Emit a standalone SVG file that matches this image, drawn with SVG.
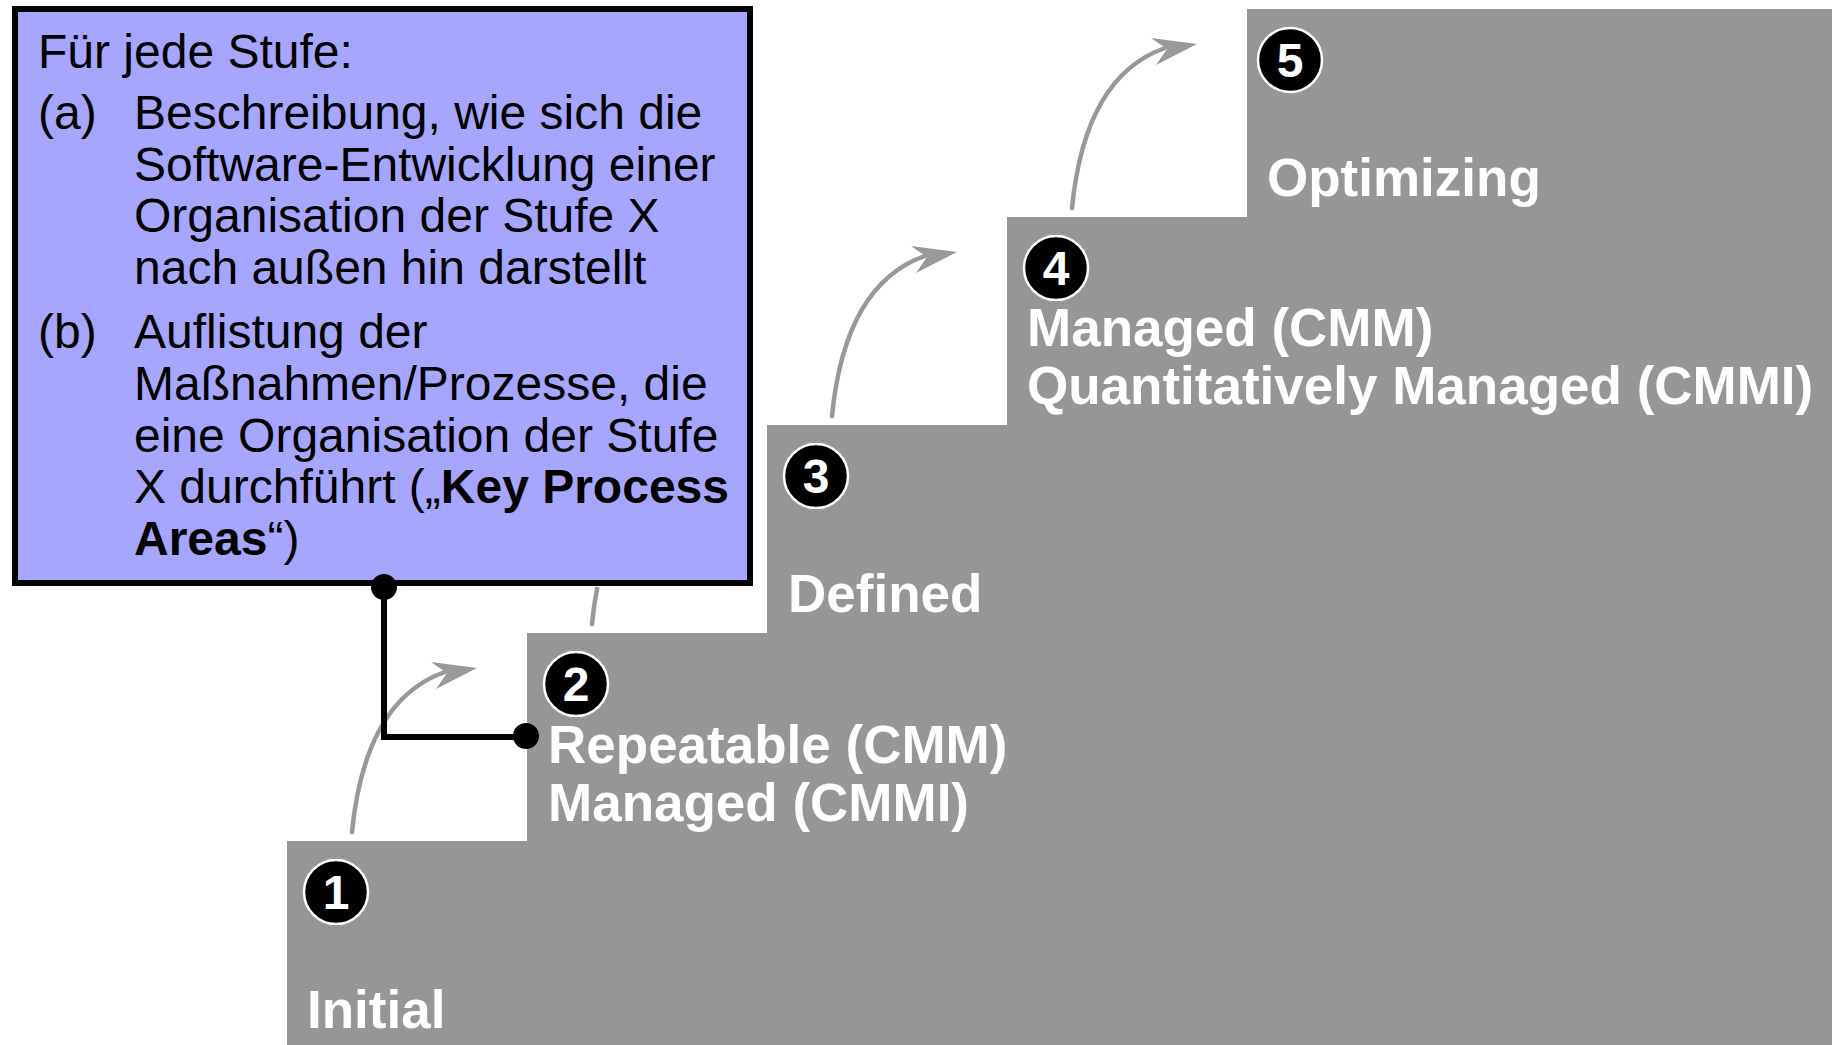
<svg xmlns="http://www.w3.org/2000/svg" xmlns:xlink="http://www.w3.org/1999/xlink" width="1832" height="1045" viewBox="0 0 1832 1045">
<style>
.stair{fill:#969696}
.num{fill:#000;stroke:#fff;stroke-width:2.5}
.numt{fill:#fff;font-family:"Liberation Sans",Arial,sans-serif;font-weight:bold;font-size:48px;text-anchor:middle}
.lbl{fill:#fff;font-family:"Liberation Sans",Arial,sans-serif;font-weight:bold;font-size:53px}
.box{fill:#A6A6FF;stroke:#000;stroke-width:6}
.bt{fill:#000;font-family:"Liberation Sans",Arial,sans-serif;font-size:48px}
.b{font-weight:bold}
.garrow{fill:none;stroke:#999;stroke-width:4.5;stroke-linecap:round}
.ghead{fill:#999}
.link{fill:none;stroke:#000;stroke-width:6}
</style>
<defs>
<g id="stepArrow">
<path class="garrow" d="M352,832 Q365,700 445,672"/>
<polygon class="ghead" points="477,668 431,662 447,673 436,689"/>
</g>
<clipPath id="belowBox"><rect x="0" y="587" width="1832" height="458"/></clipPath>
</defs>
<rect width="1832" height="1045" fill="#fff"/>
<polygon id="stairs" class="stair" points="287,1045 287,841 527,841 527,633 767,633 767,425 1007,425 1007,217 1247,217 1247,9 1832,9 1832,1045"/>

<g id="step1">
<circle class="num" cx="336" cy="892" r="32"/>
<text class="numt" x="336" y="909">1</text>
<text class="lbl" x="307" y="1028">Initial</text>
</g>
<g id="step2">
<circle class="num" cx="576" cy="684" r="32"/>
<text class="numt" x="576" y="701">2</text>
<text class="lbl" x="548" y="763">Repeatable (CMM)</text>
<text class="lbl" x="548" y="821">Managed (CMMI)</text>
</g>
<g id="step3">
<circle class="num" cx="816" cy="476" r="32"/>
<text class="numt" x="816" y="493">3</text>
<text class="lbl" x="788" y="612">Defined</text>
</g>
<g id="step4">
<circle class="num" cx="1056" cy="268" r="32"/>
<text class="numt" x="1056" y="285">4</text>
<text class="lbl" x="1027" y="346">Managed (CMM)</text>
<text class="lbl" x="1027" y="404">Quantitatively Managed (CMMI)</text>
</g>
<g id="step5">
<circle class="num" cx="1290" cy="60" r="32"/>
<text class="numt" x="1290" y="77">5</text>
<text class="lbl" x="1267" y="196">Optimizing</text>
</g>

<g id="infobox">
<rect class="box" x="15" y="9" width="735" height="574"/>
<text class="bt" x="38" y="68">Für jede Stufe:</text>
<text class="bt" x="38" y="129">(a)</text>
<text class="bt" x="134" y="129">Beschreibung, wie sich die</text>
<text class="bt" x="134" y="181">Software-Entwicklung einer</text>
<text class="bt" x="134" y="232">Organisation der Stufe X</text>
<text class="bt" x="134" y="284">nach außen hin darstellt</text>
<text class="bt" x="38" y="348">(b)</text>
<text class="bt" x="134" y="348">Auflistung der</text>
<text class="bt" x="134" y="400">Maßnahmen/Prozesse, die</text>
<text class="bt" x="134" y="452">eine Organisation der Stufe</text>
<text class="bt" x="134" y="503">X durchführt („<tspan class="b">Key Process</tspan></text>
<text class="bt" x="134" y="555"><tspan class="b">Areas</tspan>“)</text>
</g>

<g id="connectors">
<use xlink:href="#stepArrow"/>
<g clip-path="url(#belowBox)"><use xlink:href="#stepArrow" transform="translate(240,-208)"/></g>
<use xlink:href="#stepArrow" transform="translate(480,-416)"/>
<use xlink:href="#stepArrow" transform="translate(720,-624)"/>
<path class="link" d="M384,587 V737 H526"/>
<circle cx="384" cy="587" r="13" fill="#000"/>
<circle cx="526" cy="736" r="13" fill="#000"/>
</g>
</svg>
